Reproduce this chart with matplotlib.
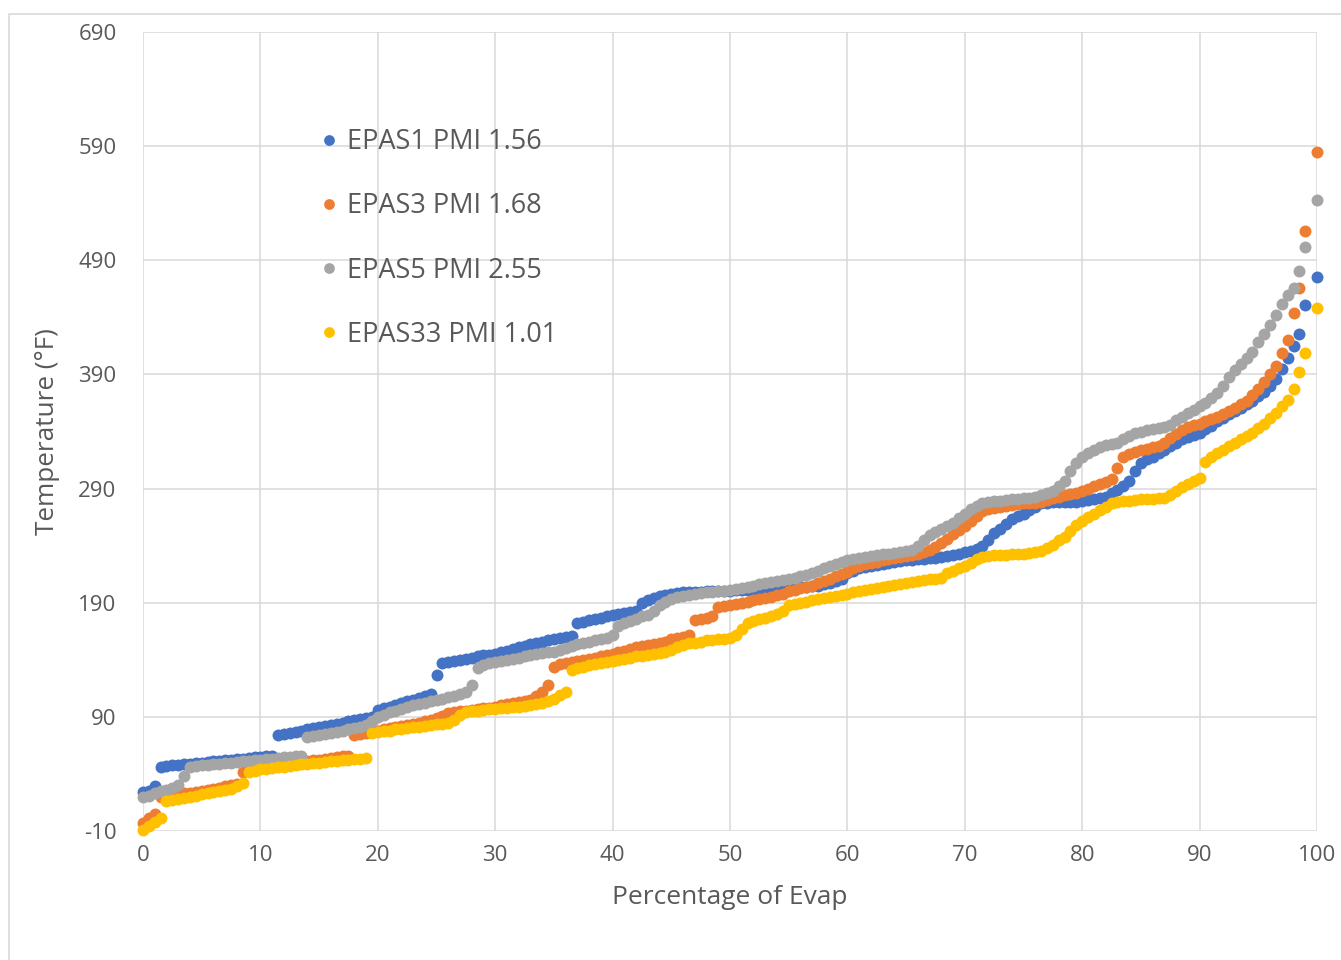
import numpy as np
import matplotlib
matplotlib.use("Agg")
import matplotlib.pyplot as plt
from matplotlib.patches import Rectangle

plt.rcParams["font.family"] = ["Open Sans", "DejaVu Sans"]
plt.rcParams["axes.unicode_minus"] = False

# ── Distillation data: temperature (°F) vs. percentage evaporated ────────────
# dense part of each curve is sampled every 0.5 % from 0 to 96.5 %
evap_pct = np.arange(0.0, 97.0, 0.5)

epas1_temp = [
    24, 25, 29, 46, 47, 47.5, 48, 48.5, 49, 49.5,
    50, 50.5, 51, 51.5, 52, 52.5, 53, 53.5, 54, 54.5,
    55, 55.5, 56, 74, 75, 76, 77, 78, 79, 80,
    81, 82, 83, 84, 85, 86, 87, 88, 89, 90,
    96, 97.5, 99, 100.5, 102, 103.5, 105, 106.5, 108, 110,
    127, 137, 138, 139, 140, 141, 142, 143, 144, 144.5,
    145, 146.5, 148, 149.5, 151, 152.5, 154, 155, 156, 157,
    158, 159, 160, 161, 172, 173.5, 175, 176, 177, 178,
    179, 180, 181, 182, 183, 190, 192, 194, 196, 197,
    198, 198.5, 199, 199, 199.5, 199.5, 200, 200, 200, 200.5,
    200.5, 201, 201, 201.5, 201.5, 202, 202, 202.5, 202.5, 203,
    203, 203.5, 204, 204, 204.5, 205, 206, 207, 209, 211,
    216, 218, 220, 221, 222, 223, 224, 225, 226, 226.5,
    227, 227.5, 228, 228.5, 229, 229.5, 230, 231, 232, 233,
    234, 235, 237, 240, 245, 251, 255, 259, 263, 266,
    268, 271, 274, 277, 277.5, 278, 278, 278, 278.5, 278.5,
    279, 280, 281, 282, 283, 286, 289, 292, 297, 305,
    312, 316, 318, 321, 324, 327, 330, 333, 335, 337,
    339, 342, 345, 349, 352, 355, 358, 361, 364, 367,
    371, 375, 380, 386,
]
epas3_temp = [
    -3, 1, 5, 20, 21, 22, 22.5, 23, 23.5, 24,
    25, 26, 27, 28, 29, 30, 31, 42, 43, 44,
    45, 46, 46.5, 47, 48, 49, 50, 50.5, 51, 52,
    52.5, 53, 54, 55, 55.5, 56, 74, 75, 76, 77,
    78, 79, 80, 81, 82, 83, 84, 85, 86, 87,
    89, 91, 93, 94, 95, 95.5, 96, 97, 97.5, 98,
    99, 100, 101, 102, 103, 104, 105, 108, 112, 118,
    134, 136, 137, 138, 139, 140, 141, 142, 143, 144,
    145, 147, 148, 149.5, 151, 152, 153, 154, 155, 156,
    158, 159, 160, 162, 175, 176, 177, 178, 186, 187,
    188, 189, 190, 191, 192, 193, 194, 195, 197, 198,
    200, 201, 203, 204, 205, 207, 209, 211, 213, 215,
    217, 220, 222, 224, 225, 226, 227, 228, 229, 230,
    231, 232, 233, 234, 236, 239, 242, 246, 250, 254,
    257, 262, 266, 270, 272, 273, 274, 275, 276, 276.5,
    277, 277, 277.5, 278, 280, 282, 283, 284, 285, 286.5,
    288, 290, 292, 294, 296, 298, 308, 318, 320, 322,
    324, 325, 326, 327, 330, 334, 338, 341, 344, 346,
    347, 349, 351, 353, 355, 358, 361, 364, 367, 372,
    377, 383, 390, 397,
]
epas5_temp = [
    20, 21, 23, 25, 26, 28, 30, 38, 46, 47,
    47.5, 48, 48.5, 49, 49.5, 50, 50.5, 51, 51.5, 52,
    52.5, 53, 53.5, 54, 54.5, 55, 55.5, 56, 72, 73,
    74, 75, 76, 77, 78, 79, 80, 81, 83, 86,
    90, 92, 94, 95.5, 97, 98.5, 100, 101, 102.5, 104,
    105, 106, 107, 108, 110, 112, 118, 133, 135, 137,
    138, 139, 140, 141, 142, 143, 144, 145, 146, 146.5,
    147, 148.5, 150, 152, 154, 155, 156, 157, 158, 159,
    162, 170, 172, 174, 176, 178, 179, 183, 188, 191,
    193, 195, 196, 197, 198, 198.5, 199, 199.5, 200, 200.5,
    201, 202, 203, 204, 205, 206, 207, 208, 209, 210,
    211, 212, 213, 214, 216, 218, 220, 222, 224, 226,
    227, 228, 229, 230, 231, 232, 232.5, 233, 233.5, 234,
    235, 236, 240, 245, 249, 252, 255, 257, 260, 264,
    268, 272, 275, 277, 278, 279, 279.5, 280, 280.5, 281,
    281.5, 282, 283, 284, 286, 288, 292, 297, 305, 312,
    318, 321, 324, 326, 328, 329, 330, 333, 336, 339,
    340, 341, 342, 343, 344, 346, 350, 353, 356, 359,
    362, 365, 369, 374, 380, 388, 394, 399, 404, 410,
    418, 425, 433, 442,
]
epas33_temp = [
    -9, -6, -2, 1, 16, 17, 18, 19, 20, 21,
    22, 23, 24, 25, 26, 27, 29, 32, 42, 43,
    44, 44.5, 45, 46, 46.5, 47, 48, 48.5, 49, 49.5,
    50, 50.5, 51, 51.5, 52, 52.5, 53, 53.5, 54, 76,
    77, 77.5, 78, 79, 79.5, 80, 81, 81.5, 82, 83,
    83.5, 84, 84.5, 87, 92, 94, 95, 95.5, 96, 96.5,
    97, 97.5, 98, 98.5, 99, 99.5, 100, 101, 102, 104,
    106, 109, 112, 131, 133, 134, 135, 136, 137, 138,
    139, 140, 141, 142, 143, 143.5, 144, 145, 146, 147,
    149, 151, 153, 154.5, 155, 156, 157, 157.5, 158, 158.5,
    159, 162, 167, 172, 174, 176, 177, 178, 180, 183,
    188, 189, 190, 191, 192, 193, 194, 195, 196, 197,
    198, 199, 200, 201, 202, 203, 204, 205, 205.5, 206,
    207, 208, 209, 210, 210.5, 211, 212, 216, 218, 220,
    222, 225, 228, 230, 231, 231.5, 232, 232, 232.5, 233,
    233, 233.5, 234, 235, 238, 241, 245, 248, 253, 258,
    262, 265, 268, 271, 274, 277, 278, 279, 279.5, 280,
    280.5, 281, 281, 281.5, 282, 284, 288, 291, 294, 297,
    299, 313, 318, 321, 324, 327, 330, 333, 336, 339,
    343, 347, 352, 356,
]

# sparse end points (last few percent boil off quickly)
tail_pct = [97, 97.5, 98, 98.5, 99, 100]
epas1_tail = [395, 404, 415, 425, 451, 475]
epas3_tail = [409, 420, 444, 466, 516, 585]
epas5_tail = [452, 460, 466, 481, 502, 543]
epas33_tail = [362, 368, 377, 392, 409, 448]

labels = ["EPAS1 PMI 1.56", "EPAS3 PMI 1.68", "EPAS5 PMI 2.55", "EPAS33 PMI 1.01"]
colors = ["#4472C4", "#ED7D31", "#A5A5A5", "#FFC000"]

x_ticks = list(range(0, 101, 10))
y_ticks = list(range(-10, 691, 100))

series = [
    (epas1_temp, epas1_tail),
    (epas3_temp, epas3_tail),
    (epas5_temp, epas5_tail),
    (epas33_temp, epas33_tail),
]
for dense, _ in series:
    assert len(dense) == len(evap_pct)

# ── Figure ───────────────────────────────────────────────────────────────────
W, H = 1341, 960
fig = plt.figure(figsize=(W / 100, H / 100), dpi=100)
ax = fig.add_axes([143 / W, 1 - 831 / H, 1174 / W, 799 / H])

# chart-area border
fig.patches.append(Rectangle((9 / W, -0.1), 1.2, 1.1 - 14 / H,
                             transform=fig.transFigure, fill=False,
                             ec="#D9D9D9", lw=1.2))

for (dense, tail), lab, col in zip(series, labels, colors):
    xs = np.concatenate([evap_pct, tail_pct])
    ys = np.concatenate([dense, tail])
    ax.plot(xs, ys, linestyle="none", marker="o", markersize=8.6,
            color=col, markeredgewidth=0, label=lab, clip_on=False)

ax.set_xlim(0, 100)
ax.set_ylim(-10, 690)
ax.set_xticks(x_ticks)
ax.set_yticks(y_ticks)
ax.grid(True, color="#D9D9D9", linewidth=1.1)
ax.set_axisbelow(True)
for s in ax.spines.values():
    s.set_visible(False)
ax.tick_params(axis="both", length=0, labelsize=16, labelcolor="#595959")
ax.tick_params(axis="x", pad=10)
ax.tick_params(axis="y", pad=19)

fig.text(48 / W, 1 - 432 / H, "Temperature (°F)", rotation=90,
         ha="center", va="center", fontsize=18.8, color="#595959")
fig.text(730 / W, 1 - 897 / H, "Percentage of Evap",
         ha="center", va="center", fontsize=19, color="#595959")

leg = ax.legend(loc="upper left", bbox_to_anchor=(322 / W, 1 - 128 / H),
                bbox_transform=fig.transFigure, frameon=False,
                fontsize=19.5, handlelength=0.55, handletextpad=0.38,
                labelspacing=1.34, borderpad=0, borderaxespad=0,
                markerscale=0.9)
for t in leg.get_texts():
    t.set_color("#595959")

fig.savefig("out.png", dpi=100)
